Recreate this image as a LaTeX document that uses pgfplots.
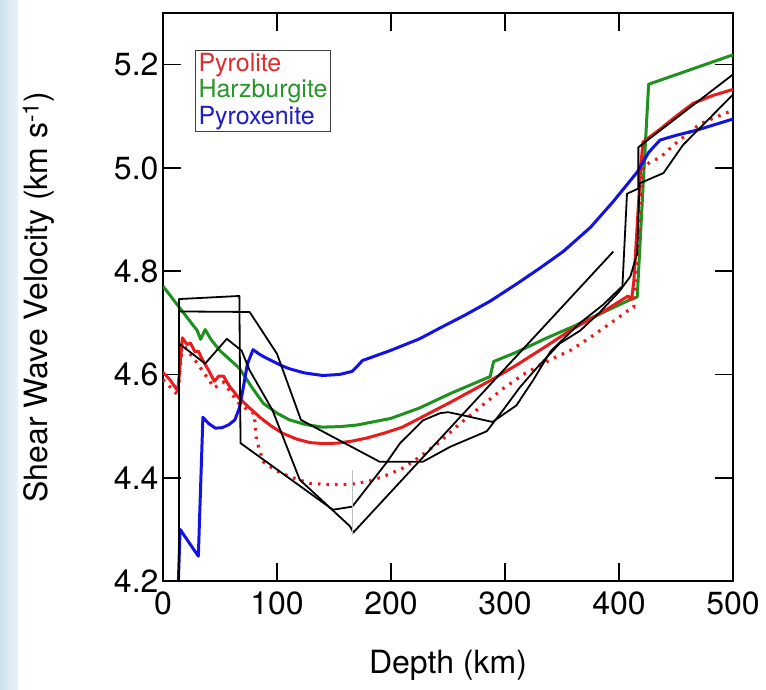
\documentclass[border=0pt]{standalone}
\usepackage{fontspec}
\setmainfont{TeX Gyre Heros}
\usepackage{pgfplots}
\pgfplotsset{compat=1.18}
\definecolor{cred}{RGB}{232,28,28}
\definecolor{cgreen}{RGB}{30,145,30}
\definecolor{cblue}{RGB}{18,18,230}
\definecolor{tred}{RGB}{225,45,45}
\definecolor{tgreen}{RGB}{40,150,40}
\definecolor{tblue}{RGB}{30,30,195}
\begin{document}
\begin{tikzpicture}
\path[use as bounding box] (-163pt,-108pt) rectangle (603pt,581pt);
\shade[left color={rgb,255:red,205;green,226;blue,240}, right color={rgb,255:red,232;green,242;blue,248}] (-163pt,-108pt) rectangle (-145pt,581pt);
\begin{axis}[
  at={(0,0)}, anchor=south west,
  scale only axis, width=570pt, height=568pt,
  xmin=0, xmax=500, ymin=4.2, ymax=5.3,
  xtick={0,100,200,300,400,500},
  ytick={4.2,4.4,4.6,4.8,5.0,5.2},
  yticklabels={4.2,4.4,4.6,4.8,5.0,5.2},
  tick align=inside, tick pos=both,
  major tick length=18pt,
  tick style={line width=1.6pt, black},
  axis line style={line width=1.6pt},
  /pgf/number format/assume math mode=true,
  tick label style={font=\fontsize{32}{36}\selectfont},
  xticklabel style={yshift=-7pt},
  yticklabel style={xshift=-1pt},
  label style={font=\fontsize{32}{36}\selectfont},
  xlabel={Depth (km)},
  ylabel={Shear Wave Velocity (km s\textsuperscript{-1})},
  xlabel style={at={(axis description cs:0.5,-0.148)}, anchor=center},
  ylabel style={at={(axis description cs:-0.218,0.5)}, anchor=center},
]
% Harzburgite
\addplot[cgreen, line width=3pt, line join=round] coordinates {
(0,4.771) (30,4.685) (33,4.668) (37,4.687) (42,4.668) (50,4.646) (67,4.612) (78,4.575) (88,4.544) (100,4.525) (111,4.512) (125,4.503) (140,4.498) (155,4.499) (170,4.502) (200,4.515) (225,4.535) (252,4.563) (287,4.596) (290,4.625) (310,4.643) (337,4.671) (360,4.693) (383,4.717) (410,4.745) (416,4.75) (421,4.96) (426,5.162) (500,5.219)};
% Pyrolite
\addplot[cred, line width=3pt, line join=round] coordinates {
(0,4.604) (6,4.59) (13,4.568) (17,4.671) (21,4.658) (24,4.661) (28,4.644) (31,4.645) (35,4.627) (40,4.608) (45,4.587) (49,4.597) (53,4.597) (58,4.578) (66,4.556) (75,4.537) (85,4.517) (95,4.5) (105,4.486) (117,4.475) (129,4.468) (141,4.466) (153,4.467) (166,4.471) (179,4.477) (195,4.487) (210,4.498) (225,4.515) (252,4.546) (287,4.588) (310,4.618) (337,4.656) (357,4.685) (385,4.72) (408,4.752) (411,4.745) (413,4.78) (416,4.89) (419,5.0) (421,5.05) (436,5.075) (450,5.1) (465,5.125) (482,5.14) (500,5.152)};
% Pyrolite dotted
\addplot[cred, line width=3.2pt, dash pattern=on 2.6pt off 6pt] coordinates {
(0,4.59) (13,4.56) (17,4.66) (30,4.622) (45,4.574) (53,4.585) (66,4.545) (75,4.53) (80,4.524) (82,4.473) (88,4.431) (100,4.413) (111,4.402) (129,4.389) (145,4.387) (164,4.387) (180,4.393) (193,4.402) (210,4.418) (225,4.44) (243,4.47) (258,4.5) (280,4.54) (298,4.572) (316,4.6) (342,4.631) (357,4.646) (377,4.675) (395,4.703) (410,4.727) (413,4.73) (417,4.86) (421,5.0) (427,5.011) (436,5.02) (451,5.05) (471,5.085) (493,5.106) (500,5.11)};
% Pyroxenite
\addplot[cblue, line width=3pt, line join=round] coordinates {
(13.5,4.2) (15,4.30) (31,4.248) (35,4.517) (40,4.505) (46,4.496) (52,4.497) (58,4.503) (63,4.512) (67,4.535) (70,4.569) (74,4.62) (79,4.648) (84,4.64) (89.5,4.633) (104,4.617) (111,4.611) (124,4.603) (140,4.598) (155,4.600) (166,4.606) (170,4.615) (175,4.627) (199,4.646) (225,4.669) (243,4.690) (265,4.715) (287,4.742) (310,4.775) (330,4.805) (351,4.838) (375,4.885) (395,4.935) (416,4.992) (426,5.03) (436,5.054) (450,5.063) (468,5.073) (499,5.094) (500,5.095)};
% black seismic models
\addplot[black, line width=1.8pt, line join=round] coordinates {
(14,4.15) (14,4.746) (67,4.752) (68,4.467) (149,4.338) (166,4.344) (196,4.429) (208,4.467) (228,4.511) (243,4.525) (250,4.527) (265,4.52) (289,4.508) (310,4.54) (325,4.59) (340,4.645) (366,4.70) (386,4.735) (403,4.771) (407,4.95) (417,4.96) (417,5.04) (500,5.181)};
\addplot[black, line width=1.8pt, line join=round] coordinates {
(14,4.15) (14,4.722) (76,4.721) (100,4.64) (121,4.512) (190,4.431) (228,4.431) (252,4.46) (284,4.49) (298,4.53) (313,4.575) (328,4.613) (348,4.66) (366,4.685) (383,4.72) (400,4.76) (410,4.79) (416,4.835) (418,4.97) (439,4.99) (456,5.044) (500,5.142)};
\addplot[black, line width=1.8pt, line join=round] coordinates {
(14,4.66) (37,4.621) (56,4.669) (69,4.646) (76,4.608) (96,4.531) (120,4.396) (164,4.306) (167,4.294) (395,4.838)};
\addplot[black!25, line width=1.2pt] coordinates {(166,4.29) (166,4.415)};
% legend
\node[draw=black!75, line width=1.2pt, anchor=north west, inner xsep=3pt, inner ysep=2pt, fill=white, align=left, font=\fontsize{25}{26.5}\selectfont] at (axis cs:28,5.228) {\textcolor{tred}{Pyrolite}\\\textcolor{tgreen}{Harzburgite}\\\textcolor{tblue}{Pyroxenite}};
\end{axis}
\end{tikzpicture}
\end{document}
